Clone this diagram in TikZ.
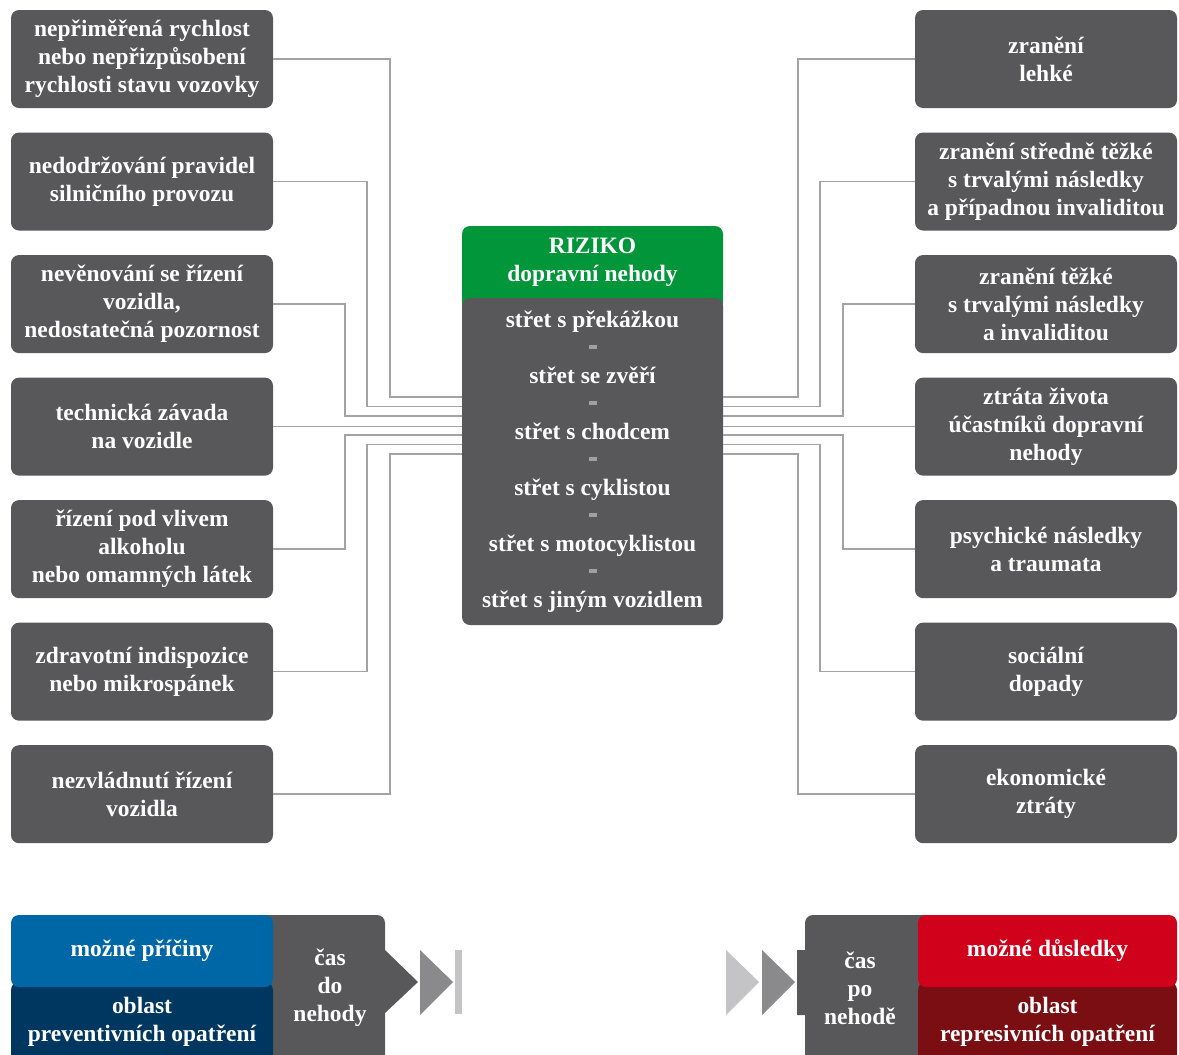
\documentclass[tikz,border=0pt]{standalone}
\usepackage{fontspec}
\setmainfont{Liberation Serif}
\usetikzlibrary{positioning,calc}

\definecolor{boxgray}{RGB}{88,88,90}
\definecolor{linegray}{RGB}{163,163,163}
\definecolor{dashgray}{RGB}{160,160,162}
\definecolor{riskgreen}{RGB}{0,150,57}
\definecolor{causeblue}{RGB}{0,103,166}
\definecolor{causenavy}{RGB}{0,55,96}
\definecolor{effectred}{RGB}{208,2,27}
\definecolor{effectdark}{RGB}{122,14,18}
\definecolor{arrowmid}{RGB}{138,138,140}
\definecolor{arrowlight}{RGB}{196,196,198}

\newcommand{\sepdash}{{\color{dashgray}\rule[0.28em]{6pt}{2.4pt}}}

\begin{document}
\begin{tikzpicture}[x=0.75pt,y=-0.75pt,node distance=18pt,
    every node/.style={text=white,align=center,inner sep=0pt,
      font=\bfseries\fontsize{17.6}{21}\selectfont},
    item/.style={fill=boxgray,rounded corners=6pt,minimum width=196.5pt,minimum height=73.5pt},
    band/.style={rounded corners=6pt,minimum width=196.5pt,minimum height=54pt},
    link/.style={draw=linegray,line width=1.1pt}]
  \useasboundingbox (0,0) rectangle (1179,1054);

  % causes
  \node[item] (c1) at (142,59) {nepřiměřená rychlost\\nebo nepřizpůsobení\\rychlosti stavu vozovky};
  \node[item] (c2) [below=of c1] {nedodržování pravidel\\silničního provozu};
  \node[item] (c3) [below=of c2] {nevěnování se řízení\\vozidla,\\nedostatečná pozornost};
  \node[item] (c4) [below=of c3] {technická závada\\na vozidle};
  \node[item] (c5) [below=of c4] {řízení pod vlivem\\alkoholu\\nebo omamných látek};
  \node[item] (c6) [below=of c5] {zdravotní indispozice\\nebo mikrospánek};
  \node[item] (c7) [below=of c6] {nezvládnutí řízení\\vozidla};

  % consequences
  \node[item] (d1) at (1046,59) {zranění\\lehké};
  \node[item] (d2) [below=of d1] {zranění středně těžké\\s trvalými následky\\a případnou invaliditou};
  \node[item] (d3) [below=of d2] {zranění těžké\\s trvalými následky\\a invaliditou};
  \node[item] (d4) [below=of d3] {ztráta života\\účastníků dopravní\\nehody};
  \node[item] (d5) [below=of d4] {psychické následky\\a traumata};
  \node[item] (d6) [below=of d5] {sociální\\dopady};
  \node[item] (d7) [below=of d6] {ekonomické\\ztráty};

  % risk
  \fill[riskgreen] (462,270) rectangle (723,310);
  \node[band,fill=riskgreen,minimum width=195.75pt] (rg) at (592.5,262) {RIZIKO\\dopravní nehody};
  \node[item,minimum width=195.75pt,minimum height=245.25pt] (rb) at (592.5,461.5)
    {střet s překážkou\\\sepdash\\střet se zvěří\\\sepdash\\střet s chodcem\\\sepdash\\střet s cyklistou\\\sepdash\\střet s motocyklistou\\\sepdash\\střet s jiným vozidlem};

  \draw[link] (c1.east) -| (390,397) -- (rb.west |- 0,397);
  \draw[link] (c2.east) -| (367,406.5) -- (rb.west |- 0,406.5);
  \draw[link] (c3.east) -| (345,416) -- (rb.west |- 0,416);
  \draw[link] (c4.east) -- (rb.west |- c4.east);
  \draw[link] (c5.east) -| (345,435) -- (rb.west |- 0,435);
  \draw[link] (c6.east) -| (367,444.5) -- (rb.west |- 0,444.5);
  \draw[link] (c7.east) -| (390,454) -- (rb.west |- 0,454);

  \draw[link] (d1.west) -| (798,397) -- (rb.east |- 0,397);
  \draw[link] (d2.west) -| (820,406.5) -- (rb.east |- 0,406.5);
  \draw[link] (d3.west) -| (843,416) -- (rb.east |- 0,416);
  \draw[link] (d4.west) -- (rb.east |- d4.west);
  \draw[link] (d5.west) -| (843,435) -- (rb.east |- 0,435);
  \draw[link] (d6.west) -| (820,444.5) -- (rb.east |- 0,444.5);
  \draw[link] (d7.west) -| (798,454) -- (rb.east |- 0,454);

  % time before
  \fill[boxgray,rounded corners=6pt] (245,1070) -- (245,915) -- (385,915) [sharp corners] -- (385,950)
    -- (418,982) -- (385,1013) -- (385,1070) -- cycle;
  \node (tb) at (330,988) {čas\\do\\nehody};
  \fill[arrowmid] (420,950) -- (453,982) -- (420,1015) -- cycle;
  \fill[arrowlight] (455,950) rectangle (462,1014);
  \node[band,fill=causenavy,minimum height=60pt] (pn) at (142,1022) {oblast\\preventivních opatření};
  \node[band,fill=causeblue] (pc) at (142,951) {možné příčiny};

  % time after
  \fill[arrowlight] (726,950) -- (759,982) -- (726,1015) -- cycle;
  \fill[arrowmid] (762,950) -- (795,982) -- (762,1015) -- cycle;
  \fill[boxgray,rounded corners=6pt] (945,1070) -- (945,915) -- (805,915) [sharp corners] -- (805,950)
    -- (797,950) -- (797,1015) -- (805,1015) -- (805,1070) -- cycle;
  \node (ta) at (860,988) {čas\\po\\nehodě};
  \node[band,fill=effectdark,minimum width=194.25pt,minimum height=60pt] (rn) at (1047.5,1022) {oblast\\represivních opatření};
  \node[band,fill=effectred,minimum width=194.25pt] (rc) at (1047.5,951) {možné důsledky};
\end{tikzpicture}
\end{document}
